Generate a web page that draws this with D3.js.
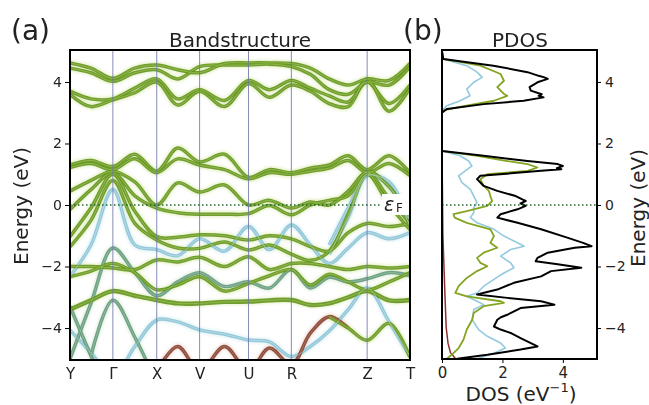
<!DOCTYPE html>
<html>
<head>
<meta charset="utf-8">
<script src="https://cdn.jsdelivr.net/npm/d3@7"></script>
<style>
  body { margin: 0; background: #fff; }
  text { font-family: "DejaVu Sans", sans-serif; fill: #222; }
</style>
</head>
<body>
<div id="chart"></div>
<script>
// k-path (distance along path) and labels
var kDist = [0, 21, 43, 65, 87, 108, 130, 155, 179, 200, 222, 241, 260, 279, 298, 320, 341];
var kLabels = ["Y", "Γ", "X", "V", "U", "R", "Z", "T"];
var kLabelPos = [0, 43, 87, 130, 179, 222, 298, 341];
var energyTicks = [-4, -2, 0, 2, 4];
var dosTicks = [0, 2, 4];

// bands (eV) at kDist, null = not drawn
var bandC4 = [4.62, 4.45, 4.12, 4.45, 4.55, 4.4, 4.3, 4.6, 4.62, 4.62, 4.6, 4.45, 4.1, 3.9, 4.1, 4.05, 4.6];
var bandC3 = [4.45, 4.3, 4.02, 4.3, 4.4, 4.1, 4.5, 4.55, 4.55, 4.58, 4.5, 4.25, 3.75, 3.6, 4.0, 3.9, 4.5];
var bandC2 = [3.7, 3.45, 3.45, 3.8, 4.1, 3.45, 3.75, 3.4, 4.05, 3.75, 4.05, 3.8, 3.55, 3.35, 4.0, 3.3, 3.9];
var bandC1 = [3.6, 3.2, 3.42, 3.65, 4.0, 3.25, 3.7, 3.2, 3.95, 3.5, 3.9, 3.7, 3.3, 3.2, 4.1, 3.05, 3.8];
var bandM2 = [1.3, 1.45, 1.25, 1.65, 1.1, 1.85, 1.4, 1.65, 0.9, 1.15, 1.05, 1.2, 1.3, 1.6, 1.15, 1.6, 1.05];
var bandM1 = [1.22, 1.35, 1.15, 1.5, 1.05, 1.5, 1.3, 1.15, 0.85, 1.05, 1.0, 1.1, 1.2, 1.45, 1.05, 1.35, 0.95];
var bandN2 = [0.45, 0.8, 1.1, 0.75, 0.0, 0.72, 0.42, 0.65, 0.0, 0.15, -0.1, 0.1, 0.0, 0.45, 1.05, 0.2, -0.6];
var bandN1 = [-0.15, 0.5, 1.05, 0.3, -0.1, -0.25, -0.3, -0.3, -0.28, -0.02, -0.32, 0.0, 0.15, 0.3, 1.1, 0.6, -0.38];
var bandZ1 = [null, null, null, null, null, null, null, null, null, null, null, null, -1.3, -0.1, 1.0, 0.6, -0.7];
var bandZ2 = [null, null, null, null, null, null, null, null, null, null, null, null, -1.6, -0.4, 0.95, 0.75, -0.5];
var bandVB = [-2.33, -1.3, 0.5, -1.3, -1.45, -1.65, -1.1, -1.5, -0.7, -1.45, -0.65, -1.3, -1.9, -1.4, -0.9, -1.1, -0.9];
var bandV1 = [-1.03, -0.1, 1.0, -0.2, -1.03, -1.05, -0.97, -1.0, -1.14, -1.0, -1.1, -1.35, -1.5, -0.9, -0.6, -0.7, -0.6];
var bandV2 = [-1.36, -0.5, 0.8, -0.6, -1.14, -1.4, -1.41, -1.2, -1.46, -1.3, -1.6, -1.8, -1.5, -0.3, 1.0, 0.0, -0.8];
var bandV3 = [-2.0, -2.0, -2.05, -2.1, -1.79, -1.85, -1.7, -2.0, -1.68, -2.1, -1.9, -1.9, -2.0, -2.1, -2.0, -2.05, -2.0];
var bandV4 = [-5.0, -3.2, -1.4, -2.2, -2.95, -2.5, -2.2, -2.65, -2.5, -2.7, -2.1, -2.7, -2.35, -2.5, -2.4, -2.2, -2.3];
var bandV5 = [-2.33, -2.15, -1.9, -2.2, -2.76, -2.6, -2.33, -2.8, -2.55, -2.3, -2.1, -2.6, -2.25, -2.5, -2.76, -2.5, -2.2];
var bandV6 = [-3.4, -3.1, -2.8, -2.95, -3.09, -3.2, -3.2, -3.15, -3.14, -3.1, -3.09, -3.25, -3.2, -3.0, -2.8, -3.1, -3.09];
var bandB4 = [-4.07, -4.8, -5.6, -4.6, -3.74, -3.8, -4.06, -4.2, -4.39, -4.45, -4.93, -4.6, -4.1, -3.4, -2.7, -3.8, -4.93];
var bandRed = [null, null, null, null, -5.4, -4.6, -5.4, -4.6, -5.4, -4.65, -5.2, -4.17, -3.63, -4.0, null, null, null];
var bandGZ = [null, null, null, null, null, null, null, null, null, null, null, null, -3.63, -4.0, -4.4, -3.85, -4.95];
var bandS1 = [-3.3, -4.9, -6.5, null, null, null, null, null, null, null, null, null, null, null, null, null, null];
var bandS2 = [null, -4.9, -3.1, -4.3, -5.8, null, null, null, null, null, null, null, null, null, null, null, null];

// PDOS curves: energy (eV) and DOS (1/eV)
var totE = [5.0, 4.75, 4.53, 4.32, 4.2, 4.15, 4.1, 3.99, 3.83, 3.72, 3.6, 3.55, 3.5, 3.39, 3.28, 3.12, 3.0, 1.76, 1.6, 1.43, 1.33, 1.27, 1.2, 1.16, 1.11, 0.95, 0.84, 0.62, 0.46, 0.29, 0.18, 0.13, 0.05, -0.03, -0.14, -0.3, -0.41, -0.58, -0.79, -1.07, -1.23, -1.34, -1.39, -1.55, -1.72, -1.83, -1.93, -2.04, -2.15, -2.32, -2.53, -2.75, -2.91, -3.02, -3.13, -3.24, -3.35, -3.57, -3.65, -3.73, -3.95, -4.05, -4.16, -4.33, -4.49, -4.6, -4.7, -4.87, -5.0];
var totD = [0, 0.04, 1.7, 2.83, 3.2, 3.39, 3.5, 3.16, 2.9, 2.94, 3.3, 3.2, 3.36, 2.7, 1.38, 0.16, 0, 0, 1.38, 2.83, 3.83, 4.0, 3.8, 3.95, 3.28, 1.27, 1.16, 1.38, 1.83, 2.44, 2.66, 2.77, 2.6, 2.77, 2.5, 1.94, 1.83, 2.5, 3.28, 4.17, 4.67, 4.95, 4.39, 3.5, 3.16, 3.1, 3.83, 4.61, 3.61, 3.28, 2.38, 1.83, 1.16, 2.16, 3.28, 3.72, 2.6, 2.16, 1.95, 1.83, 1.72, 1.94, 2.27, 2.6, 2.94, 3.16, 2.6, 1.5, 0.5];
var greenE = [5.0, 4.75, 4.53, 4.26, 4.04, 3.83, 3.61, 3.55, 3.39, 3.17, 3.07, 1.76, 1.6, 1.43, 1.33, 1.22, 1.11, 1.0, 0.84, 0.62, 0.46, 0.29, 0.13, -0.03, -0.2, -0.3, -0.41, -0.58, -0.79, -1.01, -1.23, -1.39, -1.55, -1.72, -1.88, -1.99, -2.15, -2.37, -2.64, -2.86, -2.97, -3.13, -3.18, -3.29, -3.51, -3.73, -4.05, -4.38, -4.65, -4.82, -5.0];
var greenD = [0, 0.04, 1.27, 1.94, 2.05, 1.83, 2.05, 2.16, 1.72, 0.49, 0, 0, 1.16, 2.16, 2.83, 3.16, 2.83, 1.5, 1.27, 1.38, 1.55, 1.6, 1.66, 1.5, 0.82, 0.38, 0.42, 0.82, 1.6, 1.72, 1.6, 1.83, 1.38, 1.16, 1.27, 1.5, 1.16, 0.82, 0.55, 0.44, 0.82, 1.94, 2.05, 1.38, 1.05, 1.0, 0.82, 0.71, 0.55, 0.38, 0.16];
var blueE = [5.0, 4.75, 4.53, 4.32, 4.15, 3.99, 3.77, 3.55, 3.39, 3.23, 3.07, 1.76, 1.6, 1.43, 1.27, 1.11, 0.95, 0.73, 0.51, 0.29, 0.08, -0.09, -0.25, -0.41, -0.58, -0.79, -1.01, -1.23, -1.34, -1.45, -1.66, -1.88, -2.04, -2.21, -2.42, -2.64, -2.86, -2.97, -3.13, -3.24, -3.4, -3.73, -4.05, -4.27, -4.49, -4.65, -4.82, -5.0];
var blueD = [0, 0.04, 0.82, 1.16, 1.33, 1.05, 0.82, 0.93, 0.6, 0.16, 0, 0, 0.6, 0.88, 0.99, 0.77, 0.55, 0.66, 0.94, 1.05, 1.16, 1.05, 1.05, 0.94, 1.16, 1.72, 2.05, 2.5, 2.72, 2.27, 1.94, 2.27, 2.38, 2.05, 1.72, 1.38, 1.16, 0.82, 1.16, 1.38, 1.05, 1.0, 1.21, 1.5, 1.94, 2.1, 1.72, 1.16];
var redE = [5.0, 3.0, 1.76, -1.0, -3.0, -4.0, -4.5, -4.8, -5.0];
var redD = [0, 0, 0, 0.03, 0.1, 0.14, 0.2, 0.28, 0.45];

var colors = {
  g: {halo: "#dcecb6", core: "#64931c", mid: "#a2c95c"},
  b: {halo: "#dcf0f5", core: "#8cc3d4", mid: "#c6e4ee"},
  t: {halo: "#dcecd8", core: "#62987a", mid: "#a2c8aa"},
  r: {halo: "#ecd6d0", core: "#86402e", mid: "#b98070"}
};

var bands = [
  [bandC4, "g"], [bandC3, "g"], [bandC2, "g"], [bandC1, "g"],
  [bandM2, "g"], [bandM1, "g"],
  [bandZ1, "b"], [bandZ2, "b"], [bandVB, "b"], [bandB4, "b"],
  [bandRed, "r"], [bandS1, "t"], [bandS2, "t"], [bandV4, "t"],
  [bandN2, "g"], [bandN1, "g"], [bandV1, "g"], [bandV2, "g"],
  [bandV3, "g"], [bandV5, "g"], [bandV6, "g"], [bandGZ, "g"]
];

var width = 649, height = 405;

var svg = d3.select("#chart").append("svg")
    .attr("width", width)
    .attr("height", height);

var defs = svg.append("defs");
defs.append("clipPath").attr("id", "clipA")
  .append("rect").attr("x", 70).attr("y", 50).attr("width", 340).attr("height", 310);
defs.append("clipPath").attr("id", "clipB")
  .append("rect").attr("x", 442).attr("y", 50).attr("width", 155).attr("height", 309);
defs.append("filter").attr("id", "soft")
  .append("feGaussianBlur").attr("stdDeviation", 1.2);
defs.append("filter").attr("id", "soft2")
  .append("feGaussianBlur").attr("stdDeviation", 0.5);

// scales
var xK = d3.scaleLinear().domain([0, 341]).range([70, 410]);
var yE = d3.scaleLinear().domain([-5.04, 5.04]).range([360, 50]);
var xDos = d3.scaleLinear().domain([0, 5.13]).range([442, 597]);

// ---- panel (a) bands
var bandLine = d3.line()
    .defined(function(d) { return d[1] != null; })
    .x(function(d) { return xK(d[0]); })
    .y(function(d) { return yE(d[1]); })
    .curve(d3.curveCatmullRom.alpha(0.5));

var gA = svg.append("g").attr("clip-path", "url(#clipA)");

function bandPts(b) {
  return b[0].map(function(e, i) { return [kDist[i], e]; });
}

gA.append("g").attr("filter", "url(#soft)")
  .selectAll("path").data(bands).join("path")
    .attr("d", function(b) { return bandLine(bandPts(b)); })
    .attr("fill", "none")
    .attr("stroke", function(b) { return colors[b[1]].halo; })
    .attr("stroke-width", 7)
    .attr("opacity", 0.6);

gA.append("g").attr("filter", "url(#soft2)")
  .selectAll("path").data(bands).join("path")
    .attr("d", function(b) { return bandLine(bandPts(b)); })
    .attr("fill", "none")
    .attr("stroke", function(b) { return colors[b[1]].core; })
    .attr("stroke-width", function(b) { return b[0] === bandV6 ? 4.4 : 3.5; })
    .attr("opacity", 0.9);

gA.append("g")
  .selectAll("path").data(bands).join("path")
    .attr("d", function(b) { return bandLine(bandPts(b)); })
    .attr("fill", "none")
    .attr("stroke", function(b) { return colors[b[1]].mid; })
    .attr("stroke-width", 1)
    .attr("opacity", 0.6);

// high-symmetry lines
svg.append("g").selectAll("line")
  .data(kLabelPos.slice(1, -1)).join("line")
    .attr("x1", function(d) { return xK(d); })
    .attr("x2", function(d) { return xK(d); })
    .attr("y1", 50).attr("y2", 360)
    .attr("stroke", "#6f78a8")
    .attr("stroke-width", 1)
    .attr("opacity", 0.85);

// Fermi level
svg.append("line")
    .attr("x1", 70).attr("x2", 410)
    .attr("y1", yE(0)).attr("y2", yE(0))
    .attr("stroke", "#22662a").attr("stroke-width", 1.3)
    .attr("stroke-dasharray", "1.5,2.5");

// eF label
svg.append("rect")
    .attr("x", 382).attr("y", 194).attr("width", 27).attr("height", 21)
    .attr("fill", "#fff");
svg.append("text")
    .attr("x", 384).attr("y", 210.5)
    .attr("font-size", "19px").attr("font-style", "italic")
    .text("ε");
svg.append("text")
    .attr("x", 396).attr("y", 211.5)
    .attr("font-size", "12px")
    .text("F");

// frame a
svg.append("rect")
    .attr("x", 70).attr("y", 50).attr("width", 340).attr("height", 310)
    .attr("fill", "none").attr("stroke", "#000").attr("stroke-width", 2);

// axes a
var axL = svg.append("g")
    .attr("transform", "translate(70,0)")
    .call(d3.axisLeft(yE).tickValues(energyTicks).tickFormat(d3.format("d")).tickSize(5).tickPadding(3));
axL.select(".domain").remove();
axL.selectAll("text").attr("font-size", "14px").attr("font-family", "DejaVu Sans");

var axK = svg.append("g")
    .attr("transform", "translate(0,360)")
    .call(d3.axisBottom(xK).tickValues(kLabelPos)
      .tickFormat(function(d, i) { return kLabels[i]; })
      .tickSize(0).tickPadding(8));
axK.select(".domain").remove();
axK.selectAll("text").attr("font-size", "15px").attr("font-family", "DejaVu Sans");

// ---- panel (b) PDOS
var dosLine = d3.line()
    .x(function(d) { return xDos(d[1]); })
    .y(function(d) { return yE(d[0]); });

function pairs(es, ds) {
  return es.map(function(e, i) { return [e, ds[i]]; });
}

var gB = svg.append("g").attr("clip-path", "url(#clipB)");

var pdos = [
  [redE, redD, "#8b2f2f", 1.5],
  [blueE, blueD, "#93cade", 1.6],
  [greenE, greenD, "#84a521", 1.8],
  [totE, totD, "#000", 2]
];

gB.selectAll("path").data(pdos).join("path")
    .attr("d", function(p) { return dosLine(pairs(p[0], p[1])); })
    .attr("fill", "none")
    .attr("stroke", function(p) { return p[2]; })
    .attr("stroke-width", function(p) { return p[3]; })
    .attr("stroke-linejoin", "round");

svg.append("line")
    .attr("x1", 442).attr("x2", 597)
    .attr("y1", yE(0)).attr("y2", yE(0))
    .attr("stroke", "#22662a").attr("stroke-width", 1.3)
    .attr("stroke-dasharray", "1.5,2.5");

svg.append("rect")
    .attr("x", 442).attr("y", 50).attr("width", 155).attr("height", 309)
    .attr("fill", "none").attr("stroke", "#000").attr("stroke-width", 2);

var axR = svg.append("g")
    .attr("transform", "translate(597,0)")
    .call(d3.axisRight(yE).tickValues(energyTicks).tickFormat(d3.format("d")).tickSize(4).tickPadding(4));
axR.select(".domain").remove();
axR.selectAll("text").attr("font-size", "14px").attr("font-family", "DejaVu Sans");

var axD = svg.append("g")
    .attr("transform", "translate(0,359)")
    .call(d3.axisBottom(xDos).tickValues(dosTicks).tickFormat(d3.format("d")).tickSize(4).tickPadding(4));
axD.select(".domain").remove();
axD.selectAll("text").attr("font-size", "15px").attr("font-family", "DejaVu Sans");

// titles and labels
svg.append("text").attr("x", 11).attr("y", 40).attr("font-size", "28px").text("(a)");
svg.append("text").attr("x", 403).attr("y", 40).attr("font-size", "28px").text("(b)");
svg.append("text").attr("x", 240).attr("y", 47).attr("font-size", "20px")
    .attr("text-anchor", "middle").text("Bandstructure");
svg.append("text").attr("x", 520).attr("y", 47).attr("font-size", "20px")
    .attr("text-anchor", "middle").text("PDOS");

svg.append("text")
    .attr("transform", "translate(28,206) rotate(-90)")
    .attr("text-anchor", "middle").attr("font-size", "20px")
    .text("Energy (eV)");
svg.append("text")
    .attr("transform", "translate(645,208) rotate(-90)")
    .attr("text-anchor", "middle").attr("font-size", "20px")
    .text("Energy (eV)");

var dl = svg.append("text")
    .attr("x", 521).attr("y", 401)
    .attr("text-anchor", "middle").attr("font-size", "20px");
dl.append("tspan").text("DOS (eV");
dl.append("tspan").attr("font-size", "13px").attr("dy", -9).text("−1");
dl.append("tspan").attr("dy", 9).text(")");
</script>
</body>
</html>
